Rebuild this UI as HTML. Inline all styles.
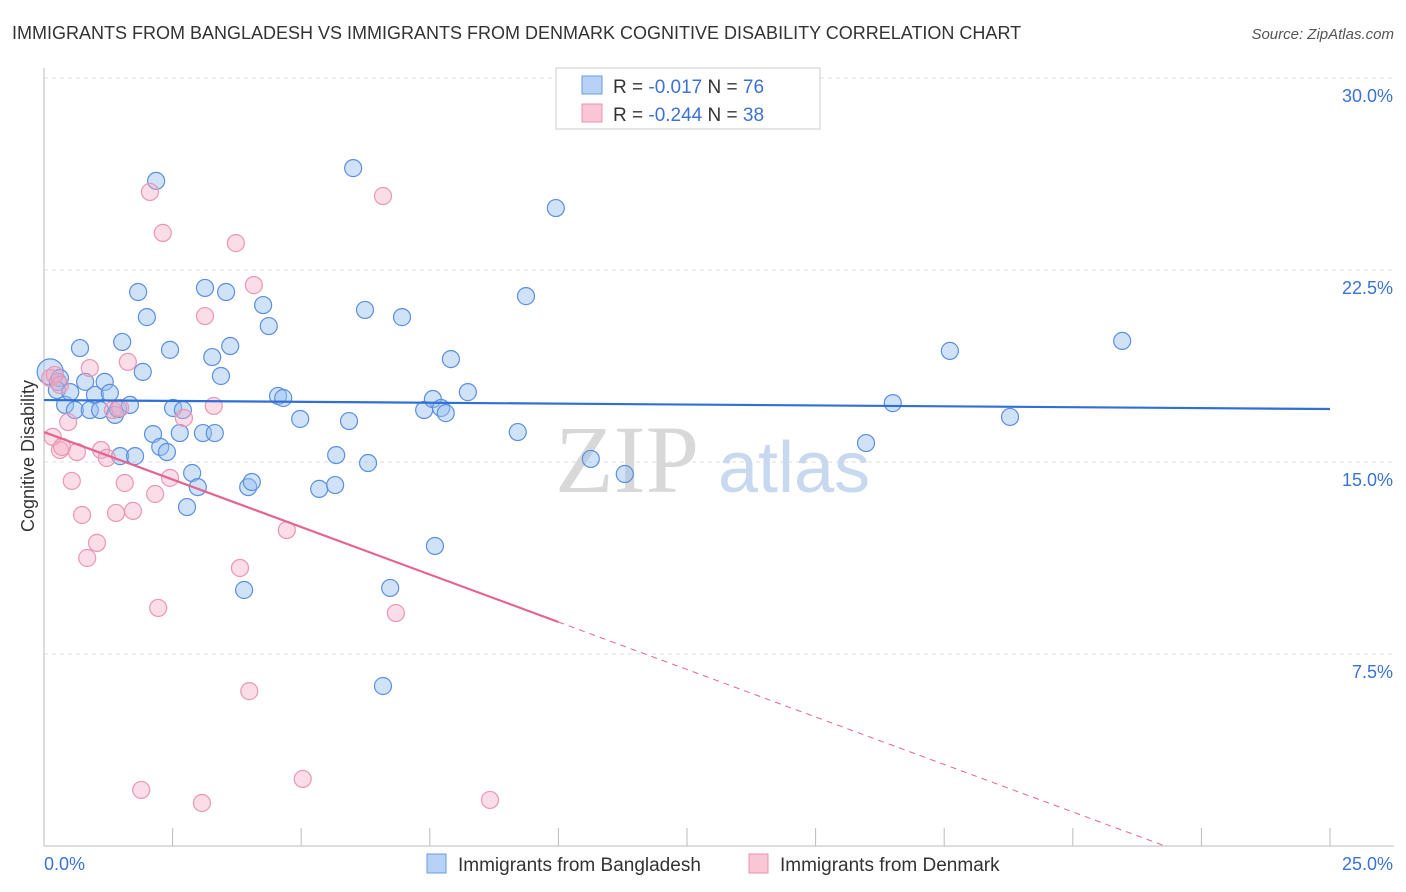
<!DOCTYPE html>
<html><head><meta charset="utf-8">
<style>
body{margin:0;background:#fff;font-family:"Liberation Sans",sans-serif;}
svg{display:block}
</style></head>
<body>
<svg id="chart" width="1406" height="892" viewBox="0 0 1406 892">
<text x="12" y="39" font-size="18" fill="#333">IMMIGRANTS FROM BANGLADESH VS IMMIGRANTS FROM DENMARK COGNITIVE DISABILITY CORRELATION CHART</text>
<text x="1394" y="39" font-size="15" fill="#555" font-style="italic" text-anchor="end">Source: ZipAtlas.com</text>
<g id="grid"></g>
<g id="wm">
<text x="555" y="492" font-size="96" fill="#d8d8d8" font-family="Liberation Serif,serif">ZIP</text>
<text x="718" y="492" font-size="72" fill="#c8d8ee">atlas</text>
</g>
<g id="axes"></g>
<text transform="translate(34,456) rotate(-90)" font-size="18" fill="#333" text-anchor="middle">Cognitive Disability</text>
<g id="marks"></g>
<g>
<rect x="556" y="68" width="264" height="61" fill="#fff" stroke="#ccc"/>
<rect x="582" y="76" width="20" height="18" fill="#b7d2f4" stroke="#6b9be0"/>
<rect x="582" y="104" width="20" height="18" fill="#f8c6d4" stroke="#e892ae"/>
<text x="613" y="93" font-size="19" fill="#333">R = <tspan fill="#3a72d8">-0.017</tspan>   N = <tspan fill="#3a72d8">76</tspan></text>
<text x="613" y="121" font-size="19" fill="#333">R = <tspan fill="#3a72d8">-0.244</tspan>   N = <tspan fill="#3a72d8">38</tspan></text>
</g>
<g>
<rect x="427" y="854" width="19" height="19" fill="#b7d2f4" stroke="#6b9be0"/>
<text x="458" y="871" font-size="19" fill="#333">Immigrants from Bangladesh</text>
<rect x="749" y="854" width="19" height="19" fill="#f8c6d4" stroke="#e892ae"/>
<text x="780" y="871" font-size="19" fill="#333">Immigrants from Denmark</text>
</g>
</svg>
<script>
const yTicks=[7.5,15,22.5,30];
const yTickLabels=["7.5%","15.0%","22.5%","30.0%"];
const xTicks=[0,2.5,5,7.5,10,12.5,15,17.5,20,22.5,25];
const xEndLabels=["0.0%","25.0%"];
const blueX=[0.12,0.27,0.31,0.25,0.41,0.51,0.60,0.70,0.80,0.89,0.99,1.09,1.18,1.28,1.38,1.44,1.52,1.67,1.48,1.77,1.83,1.92,2.00,2.12,2.18,2.26,2.39,2.45,2.51,2.64,2.70,2.78,2.88,2.99,3.09,3.13,3.27,3.32,3.44,3.54,3.62,3.89,3.97,4.04,4.26,4.37,4.55,4.65,4.98,5.35,5.66,5.68,5.93,6.01,6.24,6.30,6.59,6.73,6.96,7.39,7.56,7.60,7.72,7.81,7.91,8.24,9.21,9.37,9.95,10.63,11.29,15.98,16.50,17.61,18.78,20.96];
const blueY=[18.52,18.13,18.28,17.81,17.23,17.73,17.03,19.45,18.13,17.03,17.62,17.03,18.13,17.70,16.84,17.07,19.69,17.23,15.23,15.23,21.64,18.52,20.66,16.09,25.98,15.59,15.39,19.38,17.11,16.13,17.03,13.24,14.57,14.02,16.13,21.80,19.10,16.13,18.36,21.64,19.53,10.00,14.02,14.22,21.13,20.31,17.58,17.50,16.68,13.95,14.10,15.27,16.60,26.48,20.94,14.96,6.25,10.08,20.66,17.03,17.46,11.72,17.11,16.91,19.02,17.73,16.17,21.48,24.92,15.12,14.53,15.74,17.30,19.34,16.76,19.73];
const pinkX=[0.12,0.21,0.31,0.17,0.31,0.35,0.47,0.54,0.64,0.74,0.84,0.89,1.03,1.11,1.22,1.34,1.40,1.48,1.57,1.63,1.73,1.89,2.06,2.16,2.22,2.31,2.45,2.72,3.07,3.13,3.30,3.73,3.81,3.99,4.08,4.72,5.03,6.59,6.84,8.67];
const pinkY=[18.28,18.40,18.01,15.98,15.47,15.59,16.56,14.26,15.39,12.93,11.25,18.67,11.84,15.47,15.16,17.03,13.01,17.11,14.18,18.91,13.09,2.19,25.55,13.75,9.30,23.95,14.38,16.72,1.68,20.70,17.19,23.55,10.86,6.05,21.91,12.34,2.62,25.39,9.10,1.80];
const blueTrend=[17.42,17.07];
const pinkTrend=[16.17,-0.742];
const pinkSolidEnd=10;

const NS="http://www.w3.org/2000/svg";
const X=v=>44+v*51.44, Y=v=>846-v*25.6;
function mk(t,a,p){const e=document.createElementNS(NS,t);for(const k in a)e.setAttribute(k,a[k]);p.appendChild(e);return e;}
const grid=document.getElementById('grid'),axes=document.getElementById('axes'),marks=document.getElementById('marks');
yTicks.forEach((v,i)=>{
 const l=mk('line',{x1:44,x2:1394,y1:Y(v),y2:Y(v),stroke:'#ddd','stroke-dasharray':'4,4'},grid);
 
 
 const t=mk('text',{x:1393,y:Y(v)+24,'font-size':18,fill:'#3a72d8','text-anchor':'end'},axes);
 t.textContent=yTickLabels[i];
 
 
});
const ax=mk('line',{x1:44,x2:1394,y1:846,y2:846,stroke:'#bbb'},axes);


const ay=mk('line',{x1:44,x2:44,y1:68,y2:846,stroke:'#bbb'},axes);


xTicks.forEach(v=>{
 const t=mk('line',{x1:X(v),x2:X(v),y1:828,y2:846,stroke:'#bbb'},axes);
 
 
});
const xl0=mk('text',{x:44,y:870,'font-size':18,fill:'#3a72d8'},axes);xl0.textContent=xEndLabels[0];


const xl1=mk('text',{x:1393,y:870,'font-size':18,fill:'#3a72d8','text-anchor':'end'},axes);xl1.textContent=xEndLabels[1];



blueX.forEach((x,i)=>{
 const c=mk('circle',{cx:X(x),cy:Y(blueY[i]),r:i==0?13:8.5,fill:'rgba(150,190,240,0.45)',stroke:'#5b8fe0','stroke-width':1.2},marks);
 
 
});
pinkX.forEach((x,i)=>{
 const c=mk('circle',{cx:X(x),cy:Y(pinkY[i]),r:8.5,fill:'rgba(245,170,195,0.4)',stroke:'#ea97b2','stroke-width':1.2},marks);
 
 
});
const bt=mk('line',{x1:X(0),y1:Y(blueTrend[0]),x2:X(25),y2:Y(blueTrend[1]),stroke:'#2f6fd6','stroke-width':2.2},marks);


const pe=-pinkTrend[0]/pinkTrend[1];
const ps=mk('line',{x1:X(0),y1:Y(pinkTrend[0]),x2:X(pinkSolidEnd),y2:Y(pinkTrend[0]+pinkTrend[1]*pinkSolidEnd),stroke:'#e5648f','stroke-width':2.2},marks);


const pd=mk('line',{x1:X(pinkSolidEnd),y1:Y(pinkTrend[0]+pinkTrend[1]*pinkSolidEnd),x2:X(pe),y2:Y(0),stroke:'#e5648f','stroke-width':1,'stroke-dasharray':'6,5'},marks);


</script>
</body></html>
